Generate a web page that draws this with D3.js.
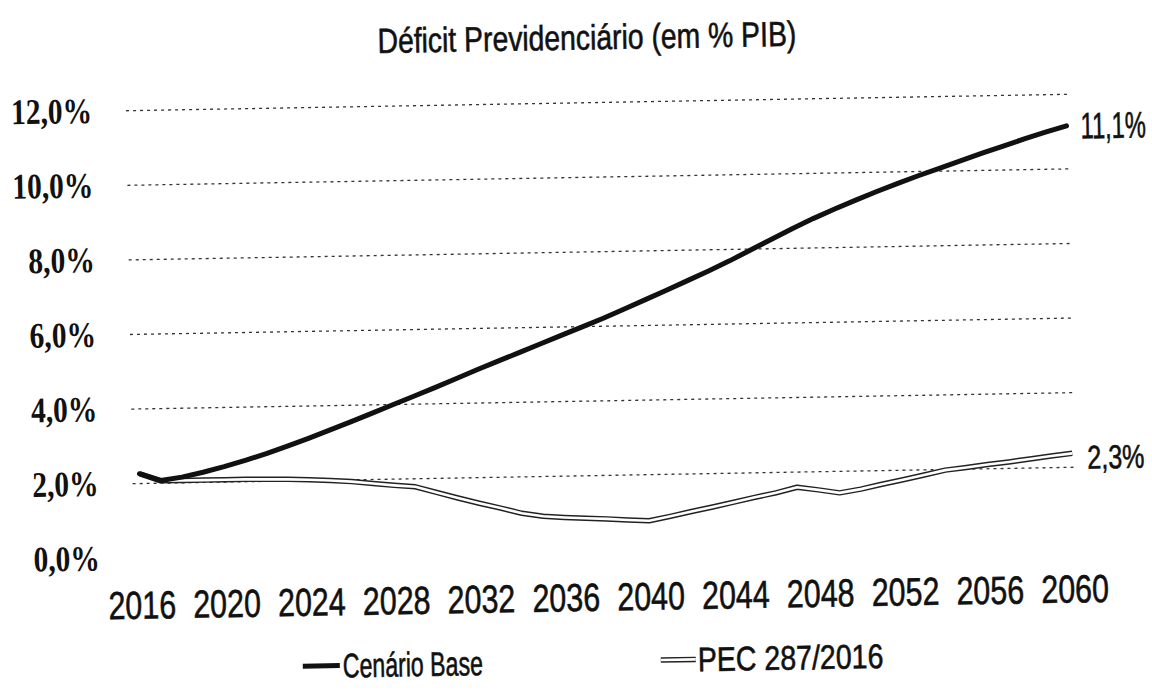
<!DOCTYPE html>
<html><head><meta charset="utf-8">
<script src="https://cdn.jsdelivr.net/npm/d3@7"></script>
<style>html,body{margin:0;padding:0;background:#fff;} svg{display:block}</style>
</head><body>
<svg id="chart" width="1152" height="695"></svg>
<script>
const title = "Déficit Previdenciário (em % PIB)";
const years = d3.range(2016, 2061);
const cenarioBase = [2.25,2.06,2.14,2.26,2.40,2.56,2.73,2.92,3.12,3.33,3.54,3.76,3.98,4.20,4.42,4.65,4.88,5.10,5.32,5.54,5.76,5.98,6.20,6.44,6.68,6.92,7.17,7.42,7.68,7.96,8.24,8.52,8.78,9.02,9.25,9.47,9.68,9.88,10.07,10.26,10.45,10.63,10.81,10.98,11.14];
const pec = [2.25,2.05,2.05,2.05,2.05,2.05,2.04,2.03,2.01,1.98,1.94,1.88,1.82,1.77,1.61,1.45,1.30,1.16,1.01,0.92,0.88,0.85,0.82,0.78,0.75,0.86,0.98,1.09,1.21,1.33,1.44,1.58,1.50,1.41,1.50,1.62,1.73,1.85,1.97,2.03,2.10,2.16,2.23,2.30,2.36];
const xTickValues = [2016,2020,2024,2028,2032,2036,2040,2044,2048,2052,2056,2060];
const yTickValues = [0,2,4,6,8,10,12];
const seriesNames = ["Cenário Base","PEC 287/2016"];
const endLabels = ["11,1%","2,3%"];

const sans = "'Liberation Sans',Arial,sans-serif";
const serif = "'Liberation Serif','Times New Roman',serif";
const ink = "#111";

const svg = d3.select("#chart");
svg.append("rect").attr("width",1152).attr("height",695).attr("fill","#fff");
const g = svg.append("g").attr("transform","rotate(-1,600,330)");

const x = d3.scaleLinear().domain([2016,2060]).range([137,1070]);
const y = d3.scaleLinear().domain([0,12]).range([549.6,102]);
const fmtPct = d => d3.format(".1f")(d).replace(".", ",") + "%";

function narrow(sel, size, sx) {
  sel.attr("font-family", sans).attr("font-size", size).attr("fill", ink)
     .attr("stroke", ink).attr("stroke-width", 0.6)
     .attr("transform", `scale(${sx},1)`);
}
function label(parent, px, py, txt, size, sx, anchor) {
  const t = parent.append("g").attr("transform", `translate(${px},${py})`)
    .append("text").attr("dy","0.35em").attr("text-anchor", anchor || "start").text(txt);
  narrow(t, size, sx);
  return t;
}

// gridlines
const grid = g.append("g").attr("transform","translate(130,0)")
  .call(d3.axisRight(y).tickValues(yTickValues.filter(d=>d>0)).tickSize(943).tickFormat(""));
grid.select(".domain").remove();
grid.selectAll(".tick line").attr("stroke","#333").attr("stroke-width",1.3).attr("stroke-dasharray","3,4");

// y labels
const ya = g.append("g").attr("transform","translate(96,0)")
  .call(d3.axisLeft(y).tickValues(yTickValues).tickSize(0).tickPadding(0).tickFormat(fmtPct));
ya.select(".domain").remove();
ya.selectAll("text").attr("font-family",serif).attr("font-weight","bold").attr("font-size",36)
  .attr("fill",ink).attr("transform","scale(0.82,1)");

// x labels
const xa = g.append("g").attr("transform","translate(0,583)")
  .call(d3.axisBottom(x).tickValues(xTickValues).tickSize(0).tickPadding(0).tickFormat(d3.format("d")));
xa.select(".domain").remove();
narrow(xa.selectAll("text"), 39, 0.78);

// lines
const line = d3.line().x((d,i)=>x(years[i])).y(d=>y(d));
g.append("path").datum(pec).attr("d",line).attr("fill","none").attr("stroke","#222").attr("stroke-width",5.5).attr("stroke-linejoin","round");
g.append("path").datum(pec).attr("d",line).attr("fill","none").attr("stroke","#fff").attr("stroke-width",2.6).attr("stroke-linejoin","round");
g.append("path").datum(cenarioBase).attr("d",line).attr("fill","none").attr("stroke",ink).attr("stroke-width",5).attr("stroke-linejoin","round").attr("stroke-linecap","round");

// end labels
const last = years.length-1;
label(g, x(years[last])+14, y(cenarioBase[last]), endLabels[0], 37, 0.64);
label(g, x(years[last])+15, y(pec[last])+4, endLabels[1], 33, 0.76);

// title
label(g, 592, 37, title, 35, 0.81, "middle");

// legend
const lg = g.append("g");
lg.append("line").attr("x1",297).attr("x2",334).attr("y1",661).attr("y2",661).attr("stroke",ink).attr("stroke-width",5);
label(lg, 337, 661, seriesNames[0], 34, 0.68);
lg.append("line").attr("x1",655).attr("x2",690).attr("y1",661).attr("y2",661).attr("stroke","#222").attr("stroke-width",5.5);
lg.append("line").attr("x1",655).attr("x2",690).attr("y1",661).attr("y2",661).attr("stroke","#fff").attr("stroke-width",2.6);
label(lg, 692, 661, seriesNames[1], 34, 0.84);
</script>
</body></html>
